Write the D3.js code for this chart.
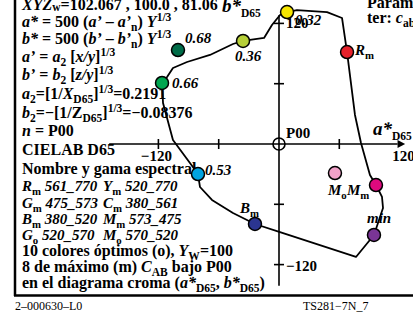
<!DOCTYPE html>
<html><head><meta charset="utf-8">
<script src="https://cdn.jsdelivr.net/npm/d3@7"></script>
<style>
html,body{margin:0;padding:0;background:#fff;}
svg{display:block;font-family:"Liberation Serif","Times New Roman",serif;}
text{white-space:pre;}
</style></head><body>
<svg id="chart" width="413" height="323"></svg>
<script>
// Boundary of the maximum-chroma gamut, (a*, b*) in CIELAB D65
const boundaryA = [-116.4,-111.4,-105.5,-91.5,-68.7,-45.8,-35.8,-28.9,-14.9,-7.0,1.0,8.0,17.9,47.8,62.7,67.7,75.6,81.6,90.5,96.5,102.5,103.5,94.5,76.6,1.0,-23.9,-45.8,-66.7,-78.6,-80.6,-88.6,-105.5,-115.4];
const boundaryB = [60.7,66.7,75.6,81.6,88.6,99.5,102.5,103.5,105.5,118.4,128.4,131.3,133.3,131.3,125.4,91.5,28.9,1.0,-30.8,-40.8,-52.7,-63.7,-90.5,-112.4,-87.6,-79.6,-68.7,-55.7,-42.8,-29.9,-18.9,4.0,40.8];

// Marked colours (optimal and maximum colours)
const markNames = ["Ym","Yg","Go","Gm","Rm","Cm","Mo","Mm","Bm","Vm"];
const markA = [8.0,-35.8,-100.5,-116.4,67.7,-80.6,55.7,96.5,-23.9,94.5];
const markB = [131.3,102.5,93.5,60.7,91.5,-29.9,-28.9,-40.8,-79.6,-90.5];
const markLabels = ["0.32","0.36","0.68","0.66","R|m","0.53","M|o","M|m","B|m","min"];

// Axis ticks
const aTicks = [-120,-60,60];
const bTicks = [120,60,-60,-120];
const aTickLabels = ["−120","120"];
const aTickValues = [-120,120];
const bTickLabels = ["120","−120"];
const bTickValues = [120,-120];

// Legend text, one row per entry
const infoLines = [
  [["XYZ","i"],["w","s"],["=102.067 , 100.0 , 81.06",""]],
  [["a*","i"],[" = 500 (",""],["a’","i"],[" – ",""],["a’","i"],["n","b"],[") ",""],["Y","i"],["1/3","p"]],
  [["b*","i"],[" = 500 (",""],["b’","i"],[" – ",""],["b’","i"],["n","b"],[") ",""],["Y","i"],["1/3","p"]],
  [["a’","i"],[" = ",""],["a","i"],["2","b"],[" [",""],["x/y","i"],["]",""],["1/3","p"]],
  [["b’","i"],[" = ",""],["b","i"],["2","b"],[" [",""],["z/y","i"],["]",""],["1/3","p"]],
  [["a","i"],["2","b"],["=[1/",""],["X","i"],["D65","b"],["]",""],["1/3","p"],["=0.2191",""]],
  [["b","i"],["2","b"],["=−[1/Z",""],["D65","b"],["]",""],["1/3","p"],["=−0.08376",""]],
  [["n","i"],[" = P00",""]],
  [["CIELAB D65",""]],
  [["Nombre y gama espectral",""]],
  [["R","i"],["m","b"],[" 561_770","i"]],
  [["G","i"],["m","b"],[" 475_573","i"]],
  [["B","i"],["m","b"],[" 380_520","i"]],
  [["G","i"],["o","b"],[" 520_570","i"]],
  [["10 colores óptimos (o), ",""],["Y","i"],["W","b"],["=100",""]],
  [["8 de máximo (m) ",""],["C","i"],["AB","b"],[" bajo P00",""]],
  [["en el diagrama croma (",""],["a*","i"],["D65","b"],[", ",""],["b*","i"],["D65","b"],[")",""]]
];
const infoLines2 = [
  [["Y","i"],["m","b"],[" 520_770","i"]],
  [["C","i"],["m","b"],[" 380_561","i"]],
  [["M","i"],["m","b"],[" 573_475","i"]],
  [["M","i"],["o","b"],[" 570_520","i"]]
];

// ---- styling / layout ----
const markFill = {Ym:"#f6e500",Yg:"#b6cf38",Go:"#006c48",Gm:"#00a650",Rm:"#e6212b",
                  Cm:"#00a3e0",Mo:"#f2a2c9",Mm:"#de0a7e",Bm:"#2b3590",Vm:"#7a3596"};
const labelOffset = {Ym:[8,13],Yg:[-8,20],Go:[7,-7],Gm:[10,5],Rm:[8,3],
                     Cm:[7,1],Mo:[-7,22],Mm:[-29,10],Bm:[-15,-11],Vm:[-7,-12]};
const rowY = [10,27,44,62,80,99,118,136,155,174,191,208,224,240,256,272,288];

const svg = d3.select("#chart");
const x = d3.scaleLinear().domain([-120,120]).range([158.4,399.6]);
const y = d3.scaleLinear().domain([-120,120]).range([264.6,23.4]);

// Rich text helper: segment styles i=italic, b=subscript, s=small, p=superscript
function rich(sel, px, py, segs, size, anchor, subSize) {
  const t = sel.append("text").attr("x",px).attr("y",py)
    .attr("font-size",size).attr("font-weight","bold");
  if (anchor) t.attr("text-anchor",anchor);
  const small = subSize || size*0.72;
  let shift = 0;
  segs.forEach(([s, st]) => {
    let target = 0, fs = size;
    if (st.includes("b")) { target = size*0.28; fs = small; }
    if (st.includes("s")) { target = size*0.08; fs = small; }
    if (st.includes("p")) { target = -size*0.38; fs = small; }
    const ts = t.append("tspan").text(s).attr("font-size",fs);
    if (target - shift !== 0) ts.attr("dy", target - shift);
    shift = target;
    if (st.includes("i")) ts.attr("font-style","italic");
  });
  return t;
}

// frame
svg.append("line").attr("x1",15).attr("y1",0).attr("x2",15).attr("y2",296)
  .attr("stroke","#000").attr("stroke-width",2.5);
svg.append("line").attr("x1",14).attr("y1",295.5).attr("x2",413).attr("y2",295.5)
  .attr("stroke","#000").attr("stroke-width",2.5);

// legend text block
infoLines.forEach((segs,i) => rich(svg, 22, rowY[i], segs, (i>=10 && i<=13) ? 15 : 16));
infoLines2.forEach((segs,i) => rich(svg, 103, rowY[10+i], segs, 15));

// top-right parameter note
rich(svg, 367, 8, [["Parame",""]], 16);
rich(svg, 367, 23, [["ter: ",""],["c","i"],["ab","b"]], 16);

// axes
const axisG = svg.append("g").attr("stroke","#000").attr("stroke-width",1.6);
axisG.append("line").attr("x1",x(-169)).attr("x2",x(118)).attr("y1",y(0)).attr("y2",y(0));
axisG.append("line").attr("x1",x(0)).attr("x2",x(0)).attr("y1",y(128)).attr("y2",y(-141));
svg.append("path")
  .attr("d",`M${x(125.5)},${y(0)} L${x(118)},${y(0)-4} L${x(118)},${y(0)+4} Z`)
  .attr("fill","#000");
axisG.selectAll(".ta").data(aTicks).join("line")
  .attr("x1",d=>x(d)).attr("x2",d=>x(d)).attr("y1",y(0)-5).attr("y2",y(0)+5);
axisG.selectAll(".tb").data(bTicks).join("line")
  .attr("y1",d=>y(d)).attr("y2",d=>y(d)).attr("x1",x(0)-5).attr("x2",x(0)+5);
svg.append("circle").attr("cx",x(0)).attr("cy",y(0)).attr("r",6)
  .attr("fill","none").attr("stroke","#000").attr("stroke-width",1.6);

aTickLabels.forEach((t,i) => rich(svg, x(aTickValues[i]) + (i===0? -2 : 4), y(0)+17, [[t,""]], 15, "middle"));
bTickLabels.forEach((t,i) => rich(svg, x(0)+7, y(bTickValues[i]) + (i===0? 5 : 6), [[t,""]], 15));
rich(svg, x(0)+7, y(0)-6, [["P00",""]], 15);

// axis titles
rich(svg, 373, 135, [["a*","i"],["D65","b"]], 19, null, 11.5);
rich(svg, 222, 12, [["b*","i"],["D65","b"]], 19, null, 11.5);

// gamut boundary
const pts = boundaryA.map((a,i) => [x(a), y(boundaryB[i])]);
svg.append("path").attr("d", d3.line().curve(d3.curveLinearClosed)(pts))
  .attr("fill","none").attr("stroke","#000").attr("stroke-width",1.8)
  .attr("stroke-linejoin","round");

// marked colours
svg.selectAll(".mk").data(markNames).join("circle")
  .attr("cx",(d,i)=>x(markA[i])).attr("cy",(d,i)=>y(markB[i])).attr("r",6.5)
  .attr("fill",d=>markFill[d]).attr("stroke","#000").attr("stroke-width",1.5);

markNames.forEach((n,i) => {
  const parts = markLabels[i].split("|");
  const segs = parts.length > 1 ? [[parts[0],"i"],[parts[1],"b"]] : [[parts[0],"i"]];
  const off = labelOffset[n];
  rich(svg, x(markA[i]) + off[0], y(markB[i]) + off[1], segs, 15);
});

// footer
svg.append("text").attr("x",15).attr("y",310).attr("font-size",12).text("2–000630–L0");
svg.append("text").attr("x",303).attr("y",310).attr("font-size",12).text("TS281−7N_7");
</script>
</body></html>
